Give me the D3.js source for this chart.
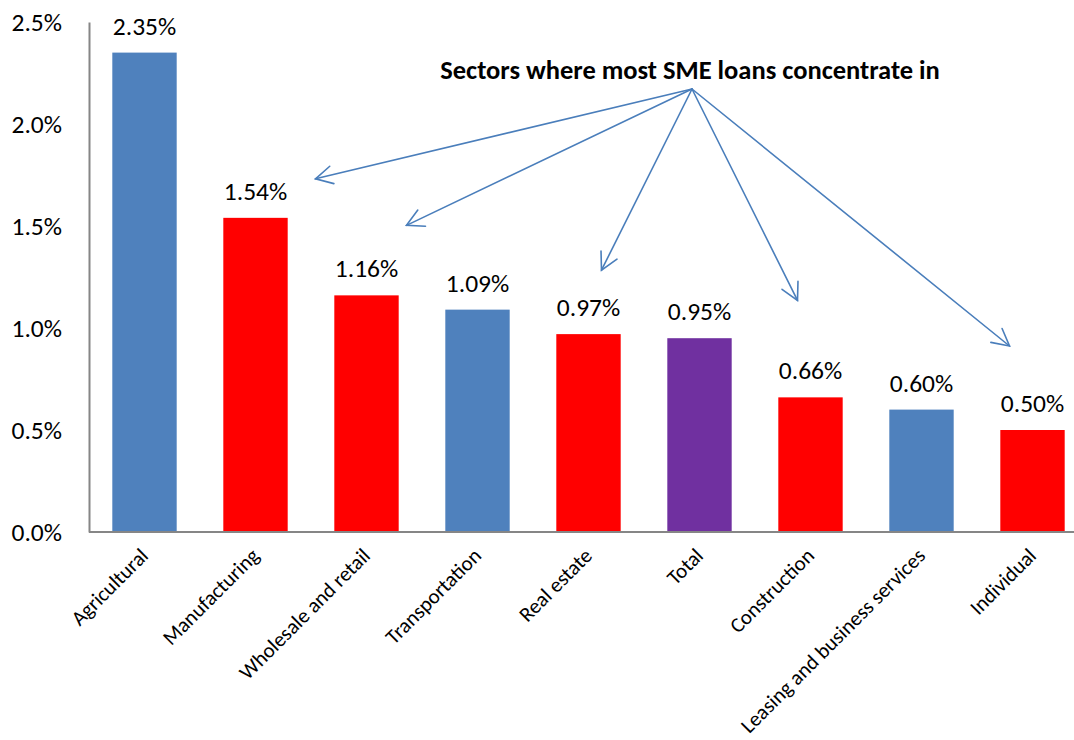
<!DOCTYPE html>
<html>
<head>
<meta charset="utf-8">
<script src="https://cdn.jsdelivr.net/npm/d3@7"></script>
<style>
  html, body { margin: 0; padding: 0; background: #fff; }
  svg { display: block; }
  text { font-family: Carlito, Lato, "Open Sans", sans-serif; fill: #000; }
</style>
</head>
<body>
<svg id="chart" width="1074" height="740"></svg>
<script>
// Non-performing SME loan ratio by sector
const categories = ["Agricultural", "Manufacturing", "Wholesale and retail", "Transportation",
  "Real estate", "Total", "Construction", "Leasing and business services", "Individual"];
const values = [2.35, 1.54, 1.16, 1.09, 0.97, 0.95, 0.66, 0.60, 0.50];
// "focus" = sectors where most SME loans concentrate
const groups = ["other", "focus", "focus", "other", "focus", "total", "focus", "other", "focus"];
const yTicks = [0, 0.5, 1.0, 1.5, 2.0, 2.5];
const calloutText = "Sectors where most SME loans concentrate in";

const svg = d3.select("#chart");
const margin = { left: 89, top: 22, bottom: 532 };

const x = d3.scaleBand()
  .domain(categories)
  .range([margin.left, margin.left + 999])
  .paddingInner(0.42)
  .paddingOuter(0.21);

const y = d3.scaleLinear().domain([0, 2.5]).range([margin.bottom, margin.top]);

const color = d3.scaleOrdinal()
  .domain(["other", "focus", "total"])
  .range(["#4F81BD", "#FF0000", "#7030A0"]);

// Bars
svg.append("g").selectAll("rect")
  .data(categories)
  .join("rect")
  .attr("x", d => x(d))
  .attr("width", x.bandwidth())
  .attr("y", (d, i) => y(values[i]))
  .attr("height", (d, i) => y(0) - y(values[i]))
  .attr("fill", (d, i) => color(groups[i]));

// Value labels
svg.append("g").selectAll("text")
  .data(categories)
  .join("text")
  .attr("x", d => x(d) + x.bandwidth() / 2)
  .attr("y", (d, i) => y(values[i]) - 18)
  .attr("text-anchor", "middle")
  .style("font-size", "25.5px")
  .text((d, i) => values[i].toFixed(2) + "%");

// Y axis
const yAxis = d3.axisLeft(y)
  .tickValues(yTicks)
  .tickFormat(d => d.toFixed(1) + "%")
  .tickSize(0)
  .tickPadding(27);
const yg = svg.append("g").attr("transform", `translate(${margin.left},0)`).call(yAxis);
yg.select(".domain").attr("stroke", "#868686").attr("stroke-width", 2);
yg.selectAll("text").style("font-size", "25.5px").attr("font-family", null);

// X axis
const xAxis = d3.axisBottom(x).tickSize(0).tickPadding(0);
const xg = svg.append("g").attr("transform", `translate(0,${margin.bottom})`).call(xAxis);
xg.select(".domain").attr("stroke", "#868686").attr("stroke-width", 2)
  .attr("d", `M${margin.left},0H1074`);
xg.selectAll(".tick text")
  .attr("text-anchor", "end")
  .attr("dy", null)
  .attr("y", 0)
  .attr("transform", "translate(5,25) rotate(-45)")
  .attr("font-family", null)
  .style("font-size", "21px");

// Callout with arrows toward the concentration sectors
const apex = { x: 692, y: 89 };
svg.append("text")
  .attr("x", 690)
  .attr("y", 79)
  .attr("text-anchor", "middle")
  .style("font-size", "26.5px")
  .style("font-weight", "bold")
  .text(calloutText);

// Arrow tip offsets relative to the top centre of each targeted bar
const tipOffsets = [[60, -39], [40, -70], [13, -64], [-13, -97], [-23, -84]];
const targets = categories.filter((d, i) => groups[i] === "focus");

const arrowColor = "#4A7EBB";
const ag = svg.append("g")
  .attr("stroke", arrowColor)
  .attr("stroke-width", 1.6)
  .attr("fill", "none")
  .attr("stroke-linecap", "round");

targets.forEach((cat, k) => {
  const i = categories.indexOf(cat);
  const tx = x(cat) + x.bandwidth() / 2 + tipOffsets[k][0];
  const ty = y(values[i]) + tipOffsets[k][1];
  ag.append("line").attr("x1", apex.x).attr("y1", apex.y).attr("x2", tx).attr("y2", ty);
  const ang = Math.atan2(apex.y - ty, apex.x - tx);
  const len = 19, spread = 28 * Math.PI / 180;
  const p1 = [tx + len * Math.cos(ang - spread), ty + len * Math.sin(ang - spread)];
  const p2 = [tx + len * Math.cos(ang + spread), ty + len * Math.sin(ang + spread)];
  ag.append("path").attr("d", `M${p1[0]},${p1[1]}L${tx},${ty}L${p2[0]},${p2[1]}`);
});
</script>
</body>
</html>
